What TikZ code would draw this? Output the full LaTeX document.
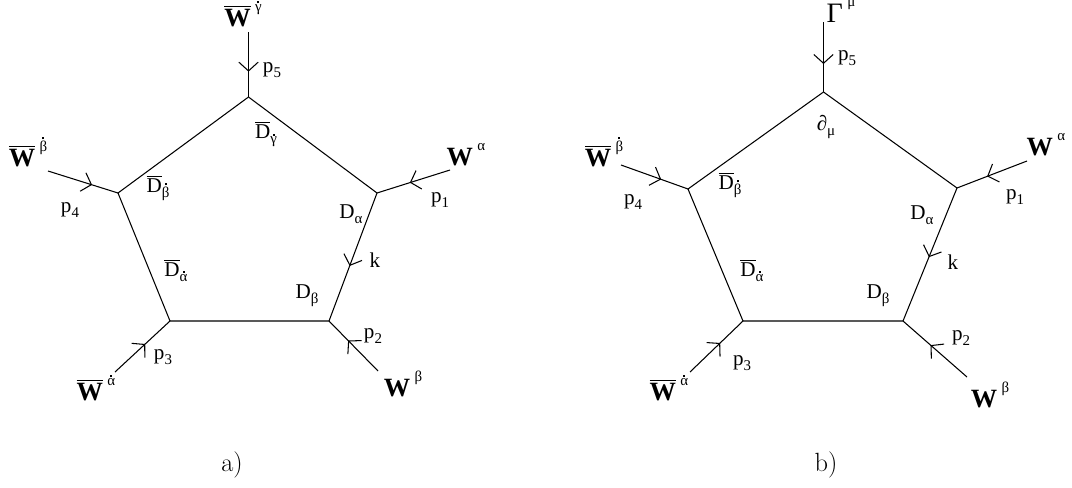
\documentclass[tikz,border=0pt]{standalone}
\usepackage{fontspec}
\usetikzlibrary{decorations.markings,arrows.meta}
\newfontfamily\tf{Liberation Serif}
\newcommand\sub[1]{\raisebox{-0.5ex}{\fontsize{8.5}{9}\selectfont #1}}
\newcommand\sups[1]{\raisebox{1.25ex}{\fontsize{8.5}{9}\selectfont\mdseries #1}}
\newcommand\dg[1]{\setbox0\hbox{#1}\rlap{\hbox to \wd0{\hss\raisebox{1.15\ht0}{\rule{1.1pt}{1.1pt}}\hss}}\box0}
\newcommand\br[1]{$\overline{\hbox{#1}}$}
\tikzset{
 ln/.style={line width=0.6pt},
 marr/.style={postaction={decorate},decoration={markings,mark=at position #1 with {\arrow{Straight Barb[length=5pt,width=11pt,line width=0.6pt]}}}},
 lbl/.style={inner sep=0pt, font=\tf\fontsize{12}{14}\selectfont},
 wlbl/.style={inner sep=0pt, font=\tf\fontsize{15}{17}\selectfont\bfseries},
 captxt/.style={inner sep=0pt, font=\fontsize{15}{17}\selectfont},
}
\begin{document}
\begin{tikzpicture}[x=0.02cm,y=-0.02cm]
\useasboundingbox (0,0) rectangle (1072,487);
% ---------------- a)
\coordinate (aT) at (248.5,97);
\coordinate (aR) at (377,193);
\coordinate (aBR) at (329,321);
\coordinate (aBL) at (170,321);
\coordinate (aL) at (118,193);
\coordinate (a5) at (248.5,32);
\coordinate (a1) at (450,170);
\coordinate (a2) at (378,371);
\coordinate (a3) at (115,372);
\coordinate (a4) at (48,171);
\draw[ln] (aT)--(aR);
\draw[ln,marr=0.57] (aR)--(aBR);
\draw[ln] (aBR)--(aBL)--(aL)--(aT);
\draw[ln,marr=0.61] (a5)--(aT);
\draw[ln,marr=0.55] (a1)--(aR);
\draw[ln,marr=0.61] (a2)--(aBR);
\draw[ln,marr=0.55] (a3)--(aBL);
\draw[ln,marr=0.63] (a4)--(aL);
\node[wlbl] (aW5) at (243,14) {\br{W}\,\sups{\dg{γ}}};
\node[lbl] (ap5) at (272,70) {p\sub{5}};
\node[wlbl] (aW1) at (466,155) {W\,\sups{α}};
\node[lbl] (ap1) at (440,200) {p\sub{1}};
\node[lbl] (aDa) at (351,214) {D\sub{α}};
\node[lbl] (ak) at (375,260) {k};
\node[lbl] (ap2) at (373,336) {p\sub{2}};
\node[wlbl] (aW2) at (403,384) {W\,\sups{β}};
\node[lbl] (ap3) at (163,357) {p\sub{3}};
\node[wlbl] (aW3) at (96,388) {\br{W}\,\sups{\dg{α}}};
\node[lbl] (ap4) at (70,210) {p\sub{4}};
\node[wlbl] (aW4) at (28,152) {\br{W}\,\sups{\dg{β}}};
\node[lbl] (aDg) at (266,134) {\br{D}\sub{\dg{γ}}};
\node[lbl] (aDb) at (158,188) {\br{D}\sub{\dg{β}}};
\node[lbl] (aDad) at (176,270) {\br{D}\sub{\dg{α}}};
\node[lbl] (aDbe) at (307,296) {D\sub{β}};
\node[captxt] (capa) at (232,465) {a)};
% ---------------- b)
\coordinate (bT) at (823.5,92);
\coordinate (bR) at (957,188);
\coordinate (bBR) at (903,321);
\coordinate (bBL) at (743,321);
\coordinate (bL) at (688,189);
\coordinate (b5) at (823.5,22);
\coordinate (b1) at (1027,161);
\coordinate (b2) at (967,377);
\coordinate (b3) at (690,372);
\coordinate (b4) at (621,165);
\draw[ln] (bT)--(bR);
\draw[ln,marr=0.52] (bR)--(bBR);
\draw[ln] (bBR)--(bBL)--(bL)--(bT);
\draw[ln,marr=0.6] (b5)--(bT);
\draw[ln,marr=0.57] (b1)--(bR);
\draw[ln,marr=0.57] (b2)--(bBR);
\draw[ln,marr=0.57] (b3)--(bBL);
\draw[ln,marr=0.6] (b4)--(bL);
\node[lbl,font=\tf\fontsize{16}{18}\selectfont] (bG) at (841,11) {Γ\,\sups{μ}};
\node[lbl] (bp5) at (847,58) {p\sub{5}};
\node[wlbl] (bW1) at (1046,145) {W\,\sups{α}};
\node[lbl] (bp1) at (1015,197) {p\sub{1}};
\node[lbl] (bDa) at (922,215) {D\sub{α}};
\node[lbl] (bk) at (953,262) {k};
\node[lbl] (bp2) at (961,338) {p\sub{2}};
\node[wlbl] (bW2) at (990,395) {W\,\sups{β}};
\node[lbl] (bp3) at (742,363) {p\sub{3}};
\node[wlbl] (bW3) at (669,388) {\br{W}\,\sups{\dg{α}}};
\node[lbl] (bp4) at (633,202) {p\sub{4}};
\node[wlbl] (bW4) at (604,152) {\br{W}\,\sups{\dg{β}}};
\node[lbl] (bdm) at (826,127) {∂\sub{μ}};
\node[lbl] (bDb) at (730,185) {\br{D}\sub{\dg{β}}};
\node[lbl] (bDad) at (752,270) {\br{D}\sub{\dg{α}}};
\node[lbl] (bDbe) at (878,296) {D\sub{β}};
\node[captxt] (capb) at (826,465) {b)};
\end{tikzpicture}
\end{document}
